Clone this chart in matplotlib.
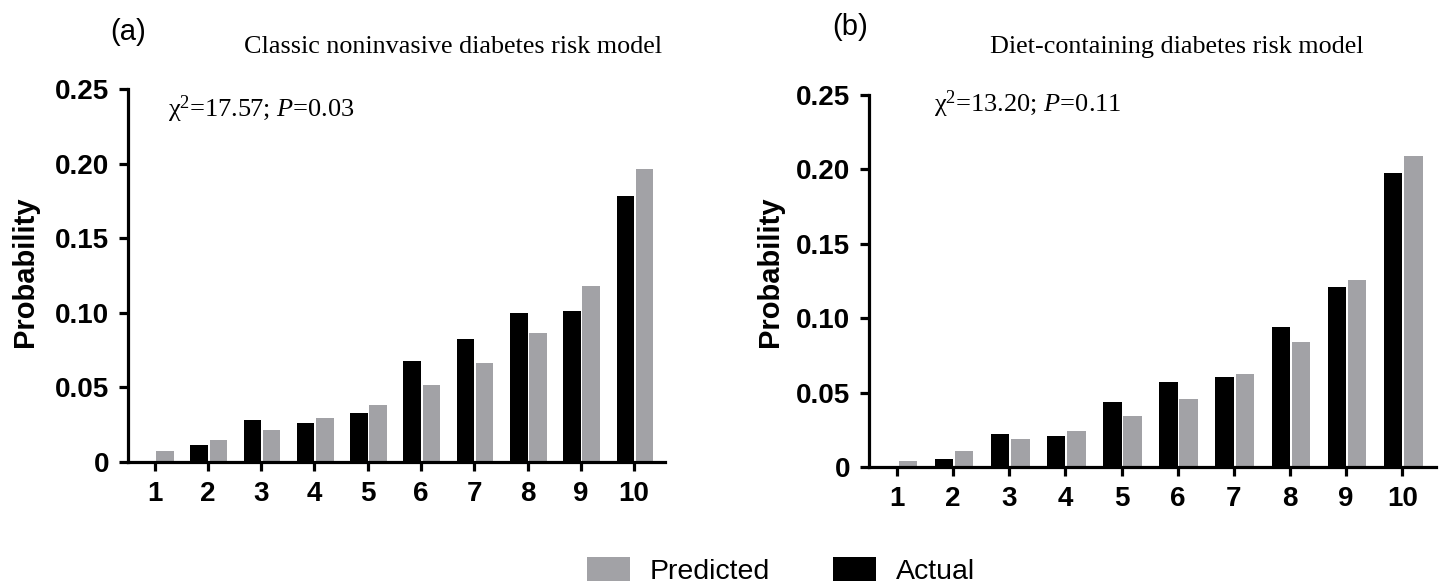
import matplotlib
matplotlib.use('Agg')
import matplotlib.pyplot as plt
import numpy as np
from matplotlib.patches import Patch

plt.rcParams['mathtext.fontset'] = 'custom'
plt.rcParams['mathtext.rm'] = 'Liberation Serif'
plt.rcParams['mathtext.it'] = 'Liberation Serif:italic'
plt.rcParams['mathtext.bf'] = 'Liberation Serif:bold'

# ---- data ----
deciles = [1, 2, 3, 4, 5, 6, 7, 8, 9, 10]
x_labels = ['1', '2', '3', '4', '5', '6', '7', '8', '9', '10']
y_ticks = [0, 0.05, 0.10, 0.15, 0.20, 0.25]
y_tick_labels = ['0', '0.05', '0.10', '0.15', '0.20', '0.25']

actual_a = [0.0, 0.0111, 0.0281, 0.0261, 0.0330, 0.0680, 0.0827, 0.0996, 0.1014, 0.1783]
predicted_a = [0.0076, 0.0149, 0.0212, 0.0294, 0.0379, 0.0513, 0.0664, 0.0865, 0.1179, 0.1965]
actual_b = [0.0, 0.0056, 0.0220, 0.0207, 0.0440, 0.0571, 0.0604, 0.0940, 0.1207, 0.1973]
predicted_b = [0.0040, 0.0107, 0.0191, 0.0240, 0.0340, 0.0458, 0.0622, 0.0840, 0.1258, 0.2089]

titles = ['Classic noninvasive diabetes risk model', 'Diet-containing diabetes risk model']
panel_labels = ['(a)', '(b)']
stats = [r'χ$^{2}$=17.57; $\mathit{P}$=$\mathit{0.03}$', r'χ$^{2}$=13.20; $\mathit{P}$=0.11']

GRAY = '#a2a2a6'
BLACK = '#000000'

W, H = 1440, 583
fig = plt.figure(figsize=(W / 100, H / 100), dpi=100)

# axes rectangles in pixels: (left, top(0.25), right, bottom(0))
rects = [(128, 89, 665, 462), (869, 95, 1436, 467)]
xlims = [(0.5, 10.58), (0.5, 10.6)]
datasets = [(actual_a, predicted_a), (actual_b, predicted_b)]
stat_pos = [(168, 109), (934, 104)]
title_pos = [(453, 47), (1177, 47)]
plab_pos = [(128, 32), (850, 27)]
ylab_x = [25, 770]

x = np.array(deciles, dtype=float)
bw = 0.33
for i in range(2):
    l, t, r, b = rects[i]
    ax = fig.add_axes([l / W, 1 - b / H, (r - l) / W, (b - t) / H])
    act, pred = datasets[i]
    ax.bar(x - 0.165, act, width=bw, color=BLACK, linewidth=0)
    ax.bar(x + 0.195, pred, width=bw, color=GRAY, linewidth=0)
    ax.set_xlim(*xlims[i])
    ax.set_ylim(0, 0.25)
    for s in ['top', 'right']:
        ax.spines[s].set_visible(False)
    for s in ['left', 'bottom']:
        ax.spines[s].set_linewidth(2.3)
        ax.spines[s].set_capstyle('projecting')
    ax.set_xticks(deciles)
    ax.set_xticklabels(x_labels)
    ax.set_yticks(y_ticks)
    ax.set_yticklabels(y_tick_labels)
    ax.tick_params(axis='both', width=2.3, length=6.5, pad=7, labelsize=20)
    for lab in ax.get_xticklabels() + ax.get_yticklabels():
        lab.set_fontfamily('Liberation Sans')
        lab.set_fontweight('bold')
    fig.text(ylab_x[i] / W, 1 - 272 / H, 'Probability', rotation=90, ha='center', va='center',
             fontsize=21, fontweight='bold', fontfamily='Liberation Sans')
    fig.text(title_pos[i][0] / W, 1 - title_pos[i][1] / H, titles[i], ha='center', va='center',
             fontsize=18.8, fontfamily='Liberation Serif')
    fig.text(plab_pos[i][0] / W, 1 - plab_pos[i][1] / H, panel_labels[i], ha='center', va='center',
             fontsize=21, fontfamily='Liberation Sans')
    fig.text(stat_pos[i][0] / W, 1 - stat_pos[i][1] / H, stats[i], ha='left', va='center',
             fontsize=19, fontfamily='Liberation Serif')

handles = [Patch(facecolor=GRAY, edgecolor='none', label='Predicted'),
           Patch(facecolor=BLACK, edgecolor='none', label='Actual')]
leg = fig.legend(handles=handles, loc='center', bbox_to_anchor=(781 / W, 1 - 571 / H), ncol=2,
                 frameon=False, prop={'family': 'Liberation Sans', 'size': 20.5},
                 handlelength=1.5, handleheight=0.9, handletextpad=0.7, columnspacing=2.2,
                 borderpad=0, borderaxespad=0)

fig.savefig('out.png', dpi=100)
